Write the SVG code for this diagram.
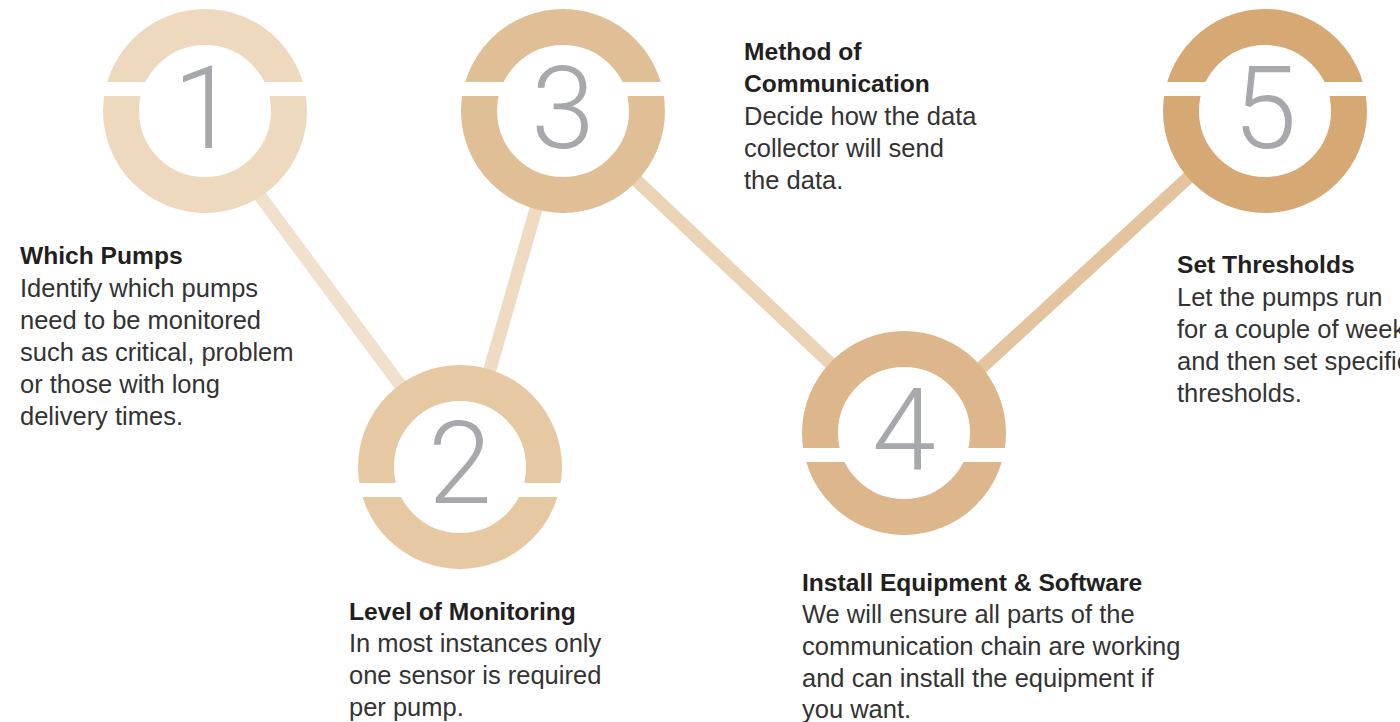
<svg xmlns="http://www.w3.org/2000/svg" width="1400" height="722" viewBox="0 0 1400 722">
<style>
.ring{fill:#fff;stroke-width:36}
.band{fill:#fff}
.num{font-family:Roboto,"Liberation Sans",sans-serif;font-weight:300;font-size:115px;fill:#a7a8ab;text-anchor:middle}
.t{font-family:"Liberation Sans",Arial,sans-serif;font-weight:bold;font-size:24.6px;fill:#231f20}
.b{font-family:"Liberation Sans",Arial,sans-serif;font-size:25.5px;fill:#333}
.c{fill:none;stroke-width:13}
</style>
<rect width="1400" height="722" fill="#fff"/>
<g id="connectors">
<line class="c" x1="197" y1="111" x2="461" y2="467" stroke="#f1e1cc"/>
<line class="c" x1="462" y1="467" x2="564" y2="111" stroke="#eedbc2"/>
<line class="c" x1="563" y1="111" x2="904" y2="433" stroke="#ebd3b5"/>
<line class="c" x1="904" y1="439" x2="1265" y2="107" stroke="#e3c49e"/>
</g>
<g id="node1">
<circle class="ring" cx="205" cy="111" r="84" stroke="#eed9bf"/>
<rect class="band" x="95" y="82" width="220" height="14"/>
<text class="num" x="205" y="148">1</text>
</g>
<g id="node2">
<circle class="ring" cx="460" cy="467" r="84" stroke="#e6c9a3"/>
<rect class="band" x="350" y="483" width="220" height="14"/>
<text class="num" x="460" y="503">2</text>
</g>
<g id="node3">
<circle class="ring" cx="563" cy="111" r="84" stroke="#e1bf96"/>
<rect class="band" x="453" y="82" width="220" height="14"/>
<text class="num" x="563" y="148">3</text>
</g>
<g id="node4">
<circle class="ring" cx="904" cy="433" r="84" stroke="#ddb78b"/>
<rect class="band" x="794" y="448" width="220" height="14"/>
<text class="num" x="904" y="470">4</text>
</g>
<g id="node5">
<circle class="ring" cx="1265" cy="111" r="84" stroke="#d6a873"/>
<rect class="band" x="1155" y="82" width="220" height="14"/>
<text class="num" x="1265" y="148">5</text>
</g>
<g id="text1">
<text class="t" x="20" y="264">Which Pumps</text>
<text class="b" x="20" y="297">Identify which pumps</text>
<text class="b" x="20" y="329">need to be monitored</text>
<text class="b" x="20" y="361">such as critical, problem</text>
<text class="b" x="20" y="393">or those with long</text>
<text class="b" x="20" y="425">delivery times.</text>
</g>
<g id="text2">
<text class="t" x="349" y="620">Level of Monitoring</text>
<text class="b" x="349" y="652">In most instances only</text>
<text class="b" x="349" y="684">one sensor is required</text>
<text class="b" x="349" y="716">per pump.</text>
</g>
<g id="text3">
<text class="t" x="744" y="60">Method of</text>
<text class="t" x="744" y="92">Communication</text>
<text class="b" x="744" y="125">Decide how the data</text>
<text class="b" x="744" y="157">collector will send</text>
<text class="b" x="744" y="189">the data.</text>
</g>
<g id="text4">
<text class="t" x="802" y="591">Install Equipment &amp; Software</text>
<text class="b" x="802" y="623">We will ensure all parts of the</text>
<text class="b" x="802" y="655">communication chain are working</text>
<text class="b" x="802" y="687">and can install the equipment if</text>
<text class="b" x="802" y="718">you want.</text>
</g>
<g id="text5">
<text class="t" x="1177" y="273">Set Thresholds</text>
<text class="b" x="1177" y="306">Let the pumps run</text>
<text class="b" x="1177" y="338">for a couple of weeks</text>
<text class="b" x="1177" y="370">and then set specific</text>
<text class="b" x="1177" y="402">thresholds.</text>
</g>
</svg>
